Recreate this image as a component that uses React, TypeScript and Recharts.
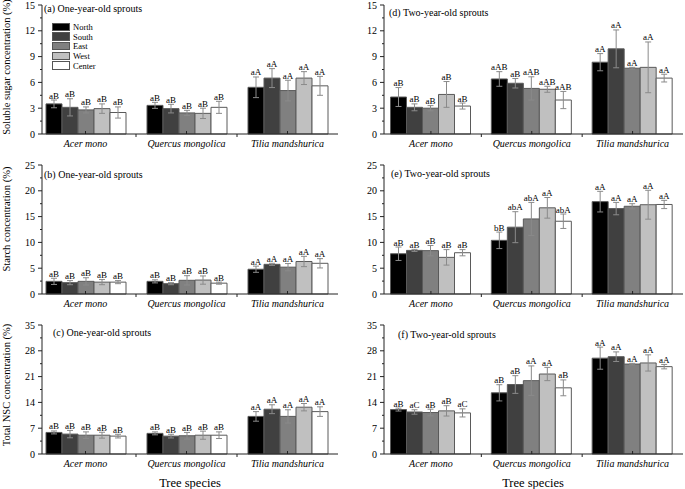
import React from 'react'
import { Bar, BarChart, ErrorBar, LabelList, Legend, XAxis, YAxis } from 'recharts'

const SERIF = '"Liberation Serif", "Times New Roman", serif'

const species = ['Acer mono', 'Quercus mongolica', 'Tilia mandshurica']
const directions = ['North', 'South', 'East', 'West', 'Center']
const fills = ['#000000', '#404040', '#808080', '#c0c0c0', '#ffffff']

// rows follow `directions`, columns follow `species`
const sugarOneMeans = [
  [3.5, 3.33, 5.43],
  [3.1, 2.95, 6.5],
  [2.8, 2.45, 5.05],
  [2.95, 2.4, 6.5],
  [2.5, 3.1, 5.6],
]
const sugarOneErrors = [
  [0.45, 0.35, 1.2],
  [1.0, 0.5, 1.1],
  [0.35, 0.3, 1.2],
  [0.55, 0.6, 0.75],
  [0.65, 0.7, 1.1],
]
const sugarOneLetters = [
  ['aB', 'aB', 'aA'],
  ['aB', 'aB', 'aA'],
  ['aB', 'aB', 'aA'],
  ['aB', 'aB', 'aA'],
  ['aB', 'aB', 'aA'],
]

const starchOneMeans = [
  [2.45, 2.45, 4.8],
  [2.2, 2.0, 5.75],
  [2.45, 2.65, 5.2],
  [2.3, 2.7, 6.3],
  [2.3, 2.1, 5.95],
]
const starchOneErrors = [
  [0.6, 0.3, 0.6],
  [0.4, 0.2, 0.2],
  [0.7, 0.9, 0.7],
  [0.5, 0.8, 1.0],
  [0.3, 0.2, 0.9],
]
const starchOneLetters = sugarOneLetters

const nscOneMeans = [
  [5.85, 5.6, 10.2],
  [5.4, 4.85, 12.15],
  [5.1, 4.95, 10.2],
  [5.1, 5.1, 12.7],
  [4.85, 5.1, 11.5],
]
const nscOneErrors = [
  [0.4, 0.4, 1.3],
  [1.0, 0.5, 1.2],
  [0.9, 0.9, 1.8],
  [0.8, 1.1, 1.0],
  [0.5, 0.9, 1.3],
]
const nscOneLetters = sugarOneLetters

const sugarTwoMeans = [
  [4.3, 6.4, 8.35],
  [3.1, 5.9, 9.9],
  [3.0, 5.3, 7.65],
  [4.6, 5.2, 7.75],
  [3.25, 3.95, 6.5],
]
const sugarTwoErrors = [
  [1.1, 0.85, 1.0],
  [0.4, 0.55, 2.2],
  [0.3, 1.35, 0.1],
  [1.5, 0.35, 2.95],
  [0.35, 1.0, 0.45],
]
const sugarTwoLetters = [
  ['aB', 'aAB', 'aA'],
  ['aB', 'aB', 'aA'],
  ['aB', 'aAB', 'aA'],
  ['aB', 'aAB', 'aA'],
  ['aB', 'aAB', 'aA'],
]

const starchTwoMeans = [
  [7.8, 10.4, 17.9],
  [8.45, 12.95, 16.55],
  [8.4, 14.55, 17.0],
  [7.1, 16.7, 17.3],
  [8.0, 14.1, 17.35],
]
const starchTwoErrors = [
  [1.3, 1.6, 2.0],
  [0.2, 3.0, 1.2],
  [1.0, 3.2, 0.5],
  [1.5, 2.0, 2.8],
  [0.6, 1.4, 0.8],
]
const starchTwoLetters = [
  ['aB', 'bB', 'aA'],
  ['aB', 'abA', 'aA'],
  ['aB', 'abA', 'aA'],
  ['aB', 'aA', 'aA'],
  ['aB', 'abA', 'aA'],
]

const nscTwoMeans = [
  [12.05, 16.6, 26.0],
  [11.4, 18.85, 26.4],
  [11.25, 19.9, 24.4],
  [11.7, 21.7, 24.7],
  [11.15, 17.95, 23.7],
]
const nscTwoErrors = [
  [0.4, 2.2, 3.0],
  [0.6, 2.4, 1.3],
  [0.9, 4.0, 0.2],
  [1.4, 1.8, 2.2],
  [1.1, 2.15, 0.6],
]
const nscTwoLetters = [
  ['aB', 'aB', 'aA'],
  ['aC', 'aB', 'aA'],
  ['aB', 'aA', 'aA'],
  ['aB', 'aA', 'aA'],
  ['aC', 'aB', 'aA'],
]

const PANEL_H = 160
const MARGIN_TOP = 5
const X_AXIS_H = 20
const MARGIN_BOTTOM = 6
const AXIS_Y = PANEL_H - X_AXIS_H - MARGIN_BOTTOM

type Row = Record<string, string | number>

function buildRows(means: number[][], errors: number[][], letters: string[][]): Row[] {
  return species.map((name, i) => {
    const row: Row = { species: name }
    directions.forEach((d, j) => {
      row[d] = means[j][i]
      row[`${d}Err`] = errors[j][i]
      row[`${d}Sig`] = letters[j][i]
    })
    return row
  })
}

function sigLabel(rows: Row[], dir: string) {
  return (p: any) => {
    const vb = p.viewBox || p
    const x = Number(vb.x ?? p.x)
    const y = Number(vb.y ?? p.y)
    const h = Number(vb.height ?? p.height)
    const w = Number(vb.width ?? p.width)
    const row = rows[p.index]
    if (!row) return null
    const mean = Number(row[dir])
    const err = Number(row[`${dir}Err`])
    const top = Math.min(y, y + h)
    const yErr = top - (err * Math.abs(h)) / mean
    return (
      <text x={x + w / 2} y={yErr - 1.5} textAnchor="middle" fontSize={9} fill="#000" fontFamily={SERIF}>
        {p.value}
      </text>
    )
  }
}

function SideLegend(props: any) {
  const items = [...(props.payload || [])].sort(
    (a: any, b: any) => directions.indexOf(a.value) - directions.indexOf(b.value),
  )
  return (
    <div style={{ fontFamily: SERIF, fontSize: 8.5, color: '#000' }}>
      {items.map((item: any) => (
        <div key={item.value} style={{ display: 'flex', alignItems: 'center', height: 9.7 }}>
          <span
            style={{
              display: 'inline-block',
              width: 18,
              height: 8.5,
              background: item.color,
              border: '1px solid #555',
              boxSizing: 'border-box',
              marginRight: 3,
            }}
          />
          {item.value}
        </div>
      ))}
    </div>
  )
}

type PanelProps = {
  means: number[][]
  errors: number[][]
  letters: string[][]
  max: number
  step: number
  left: number
  top: number
  width: number
  axisWidth: number
  rightGap: number
  bandShift: number
  legend?: boolean
}

function Panel(props: PanelProps) {
  const { means, errors, letters, max, step, left, top, width, axisWidth, rightGap, bandShift, legend } = props
  const rows = buildRows(means, errors, letters)
  const plotWidth = width - axisWidth - rightGap
  const band = (plotWidth - bandShift) / 3
  const ticks: number[] = []
  for (let k = 0; k <= Math.round((max / step) * 2); k++) ticks.push(+(k * step / 2).toFixed(2))

  const yTick = (p: any) => {
    const v = Number(p.payload.value)
    const major = Math.abs(v / step - Math.round(v / step)) < 1e-6
    const ty = Number(p.y)
    return (
      <g>
        <line x1={axisWidth - (major ? 4 : 2)} x2={axisWidth} y1={ty} y2={ty} stroke="#222" />
        {major && (
          <text x={axisWidth - 7} y={ty + 3.5} textAnchor="end" fontSize={10} fill="#000" fontFamily={SERIF}>
            {v}
          </text>
        )}
      </g>
    )
  }

  const xTick = (p: any) => {
    const cx = Number(p.x)
    return (
      <g>
        <line x1={cx} x2={cx} y1={AXIS_Y} y2={AXIS_Y - 3} stroke="#222" />
        {p.index < 2 && (
          <line x1={cx + band / 2} x2={cx + band / 2} y1={AXIS_Y} y2={AXIS_Y + 3} stroke="#222" />
        )}
        <text x={cx} y={AXIS_Y + 12.5} textAnchor="middle" fontSize={10} fontStyle="italic" fill="#000" fontFamily={SERIF}>
          {p.payload.value}
        </text>
      </g>
    )
  }

  return (
    <div style={{ position: 'absolute', left, top }}>
      <BarChart
        width={width}
        height={PANEL_H}
        data={rows}
        barGap={0}
        margin={{ top: MARGIN_TOP, right: rightGap, bottom: MARGIN_BOTTOM, left: 0 }}
      >
        <XAxis
          dataKey="species"
          padding={{ left: bandShift, right: 0 }}
          height={X_AXIS_H}
          axisLine={{ stroke: '#222' }}
          tickLine={false}
          tickSize={0}
          tickMargin={0}
          interval={0}
          tick={xTick}
        />
        <YAxis
          domain={[0, max]}
          ticks={ticks}
          width={axisWidth}
          axisLine={{ stroke: '#222' }}
          tickLine={false}
          tickSize={4}
          tickMargin={3}
          interval={0}
          tick={yTick}
        />
        {legend && (
          <Legend
            layout="vertical"
            align="center"
            verticalAlign="middle"
            wrapperStyle={{ left: 52, top: 22, width: 60, height: 50 }}
            content={SideLegend}
          />
        )}
        {directions.map((d, j) => (
          <Bar
            key={d}
            dataKey={d}
            name={d}
            fill={fills[j]}
            stroke="#5a5a5a"
            strokeWidth={1}
            barSize={16}
            isAnimationActive={false}
          >
            <ErrorBar dataKey={`${d}Err`} width={3} stroke="#8a8a8a" strokeWidth={1} />
            <LabelList dataKey={`${d}Sig`} content={sigLabel(rows, d)} />
          </Bar>
        ))}
      </BarChart>
    </div>
  )
}

const titleStyle: React.CSSProperties = {
  position: 'absolute',
  fontSize: 10,
  lineHeight: 1,
  whiteSpace: 'nowrap',
  transform: 'translateY(-50%)',
  color: '#000',
}

const yTitleStyle: React.CSSProperties = {
  position: 'absolute',
  fontSize: 10.5,
  lineHeight: 1,
  whiteSpace: 'nowrap',
  transform: 'translate(-50%, -50%) rotate(-90deg)',
  color: '#000',
}

const xTitleStyle: React.CSSProperties = {
  position: 'absolute',
  fontSize: 12.5,
  lineHeight: 1,
  whiteSpace: 'nowrap',
  transform: 'translate(-50%, -50%)',
  color: '#000',
}

export default function App(): React.ReactElement {
  const leftCol = { left: 0, width: 345, axisWidth: 42, rightGap: 7, bandShift: -7 }
  const rightCol = { left: 345, width: 340, axisWidth: 39, rightGap: 2, bandShift: -3.5 }

  return (
    <div
      style={{
        position: 'absolute',
        left: 0,
        top: 0,
        width: 685,
        height: 489,
        background: '#fff',
        fontFamily: SERIF,
        overflow: 'hidden',
      }}
    >
      <Panel {...leftCol} top={0} max={15} step={3} means={sugarOneMeans} errors={sugarOneErrors} letters={sugarOneLetters} legend />
      <Panel {...leftCol} top={160} max={25} step={5} means={starchOneMeans} errors={starchOneErrors} letters={starchOneLetters} />
      <Panel {...leftCol} top={320} max={35} step={7} means={nscOneMeans} errors={nscOneErrors} letters={nscOneLetters} />
      <Panel {...rightCol} top={0} max={15} step={3} means={sugarTwoMeans} errors={sugarTwoErrors} letters={sugarTwoLetters} />
      <Panel {...rightCol} top={160} max={25} step={5} means={starchTwoMeans} errors={starchTwoErrors} letters={starchTwoLetters} />
      <Panel {...rightCol} top={320} max={35} step={7} means={nscTwoMeans} errors={nscTwoErrors} letters={nscTwoLetters} />

      <div style={{ ...titleStyle, left: 44, top: 9 }}>(a) One-year-old sprouts</div>
      <div style={{ ...titleStyle, left: 44, top: 175 }}>(b) One-year-old sprouts</div>
      <div style={{ ...titleStyle, left: 53, top: 333 }}>(c) One-year-old sprouts</div>
      <div style={{ ...titleStyle, left: 389, top: 13 }}>(d) Two-year-old sprouts</div>
      <div style={{ ...titleStyle, left: 391, top: 174 }}>(e) Two-year-old sprouts</div>
      <div style={{ ...titleStyle, left: 398, top: 335 }}>(f) Two-year-old sprouts</div>

      <div style={{ ...yTitleStyle, left: 7, top: 67 }}>Soluble sugar concentration (%)</div>
      <div style={{ ...yTitleStyle, left: 7, top: 219 }}>Starch concentration (%)</div>
      <div style={{ ...yTitleStyle, left: 7, top: 385 }}>Total NSC concentration (%)</div>

      <div style={{ ...xTitleStyle, left: 190, top: 483 }}>Tree species</div>
      <div style={{ ...xTitleStyle, left: 533, top: 483 }}>Tree species</div>
    </div>
  )
}
